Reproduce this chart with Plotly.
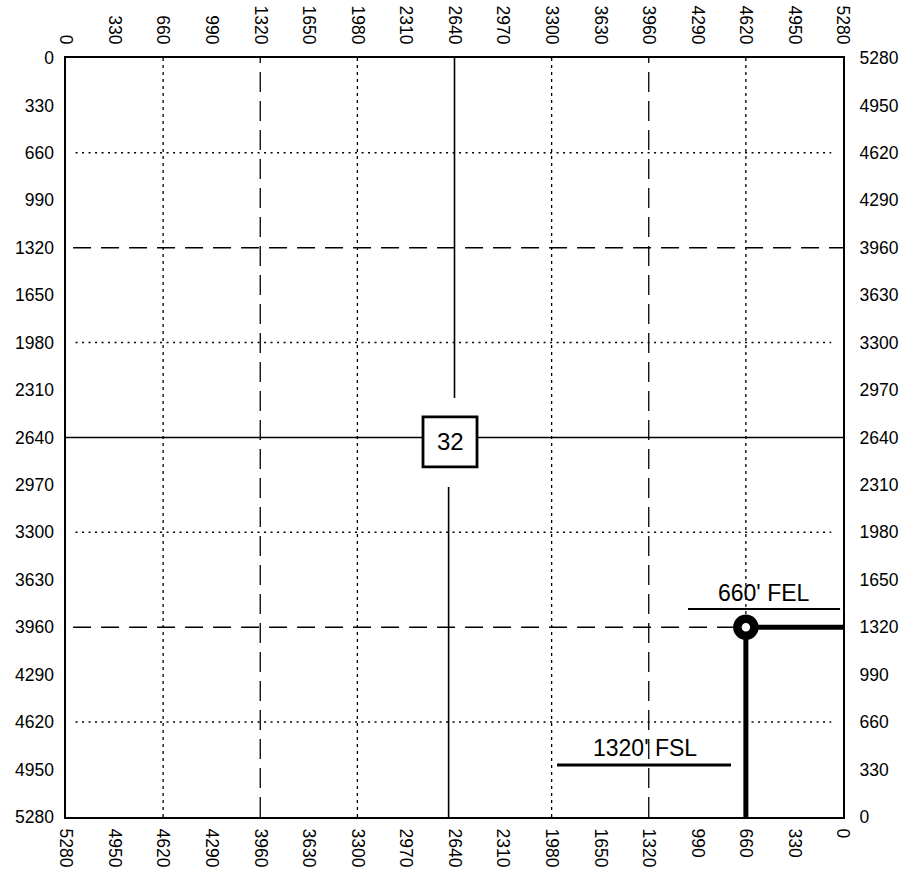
import plotly.graph_objects as go

# ---------------- data (feet) ----------------
SECTION = 5280
tick_vals = list(range(0, 5281, 330))

# grid lines (same offsets in both directions)
dotted_grid = [660, 1980, 3300, 4620]
dashed_grid = [1320, 3960]

# horizontal dotted/dashed line extents (FEL)
dotted_h_extent = [5215, 80]
dashed_h_extent = [5232, 0]

# half-section (2640') lines, split around the section box; coordinates FEL / FSL
mid_vertical_top = {"x": [2640, 2640], "y": [5280, 2915]}
mid_vertical_bottom = {"x": [2680, 2680], "y": [2296, 0]}
mid_horizontal_west = {"x": [5280, 2854], "y": [2640, 2640]}
mid_horizontal_east = {"x": [2487, 0], "y": [2640, 2640]}

# section number box
section_label = "32"
box_fel = [2487, 2854]
box_fsl = [2435, 2783]

# well location
well_fel = 660
well_fsl = 1320

# callout labels
fel_label = "660' FEL"
fel_label_pos = (537, 1560)
fel_line = {"x": [1053, 20], "y": [1447, 1447]}
fsl_label = "1320' FSL"
fsl_label_pos = (1346, 482)
fsl_line = {"x": [1943, 761], "y": [362, 362]}

# ---------------- figure ----------------
fig = go.Figure()

def seg(x, y, width, dash="solid"):
    fig.add_trace(go.Scatter(x=x, y=y, mode="lines",
                             line=dict(color="black", width=width, dash=dash),
                             hoverinfo="skip", showlegend=False))

# dotted grid
for v in dotted_grid:
    seg([v, v], [0, SECTION], 1.3, "3px,4px")
    seg(dotted_h_extent, [v, v], 1.5, "2px,4.5px")

# dashed quarter lines
for v in dashed_grid:
    seg([v, v], [0, SECTION], 1.3, "20px,9px")
# horizontal dashed: 3960 FSL full, 1320 FSL to the well
seg(dashed_h_extent, [dashed_grid[1]] * 2, 1.3, "18px,10px")
seg([dashed_h_extent[0], well_fel], [dashed_grid[0]] * 2, 1.3, "18px,10px")

# half-section lines
for s in (mid_vertical_top, mid_vertical_bottom, mid_horizontal_west, mid_horizontal_east):
    seg(s["x"], s["y"], 1.6)

# callout underlines
seg(fel_line["x"], fel_line["y"], 2)
seg(fsl_line["x"], fsl_line["y"], 3)

# distance lines from well to east and south lines
seg([well_fel, 0], [well_fsl, well_fsl], 5)
seg([well_fel, well_fel], [well_fsl, 0], 5)

# well symbol
fig.add_trace(go.Scatter(x=[well_fel], y=[well_fsl], mode="markers",
                         marker=dict(symbol="circle", size=17, color="white",
                                     line=dict(color="black", width=8.5)),
                         hoverinfo="skip", showlegend=False))

# invisible trace for top/left axes
fig.add_trace(go.Scatter(x=[0], y=[0], xaxis="x2", yaxis="y2", mode="markers",
                         marker=dict(opacity=0), hoverinfo="skip", showlegend=False))

# section box
fig.add_shape(type="rect", xref="x", yref="y", x0=box_fel[0], x1=box_fel[1],
              y0=box_fsl[0], y1=box_fsl[1], line=dict(color="black", width=2.8),
              fillcolor="white", layer="above")

fig.add_annotation(x=sum(box_fel) / 2, y=sum(box_fsl) / 2, xref="x", yref="y",
                   text=section_label, showarrow=False, font=dict(size=24, color="black"))
fig.add_annotation(x=fel_label_pos[0], y=fel_label_pos[1], xref="x", yref="y",
                   text=fel_label, showarrow=False, font=dict(size=23, color="black"))
fig.add_annotation(x=fsl_label_pos[0], y=fsl_label_pos[1], xref="x", yref="y",
                   text=fsl_label, showarrow=False, font=dict(size=23, color="black"))

axis_common = dict(tickvals=tick_vals, showgrid=False, zeroline=False, ticks="",
                   automargin=False, tickfont=dict(size=17.5, color="black"))

fig.update_layout(
    width=899, height=871,
    margin=dict(l=66, r=56, t=58, b=54, autoexpand=False),
    plot_bgcolor="white", paper_bgcolor="white",
    font=dict(family="Liberation Sans, Arial, sans-serif", color="black"),
    showlegend=False,
    xaxis=dict(range=[SECTION, 0], side="bottom", tickangle=90, ticklabelstandoff=6,
               showline=True, linewidth=2, linecolor="black", mirror=True, **axis_common),
    yaxis=dict(range=[0, SECTION], side="right", ticklabelstandoff=11,
               showline=True, linewidth=2, linecolor="black", mirror=True, **axis_common),
    xaxis2=dict(range=[0, SECTION], side="top", overlaying="x", anchor="y2", tickangle=90,
                ticklabelstandoff=10, showline=False, **axis_common),
    yaxis2=dict(range=[SECTION, 0], side="left", overlaying="y", anchor="x2",
                ticklabelstandoff=11, showline=False, **axis_common),
)

fig.write_html("out.html", config={"displayModeBar": False, "staticPlot": True},
               post_script="document.body.style.margin='0';document.body.style.overflow='hidden';")
